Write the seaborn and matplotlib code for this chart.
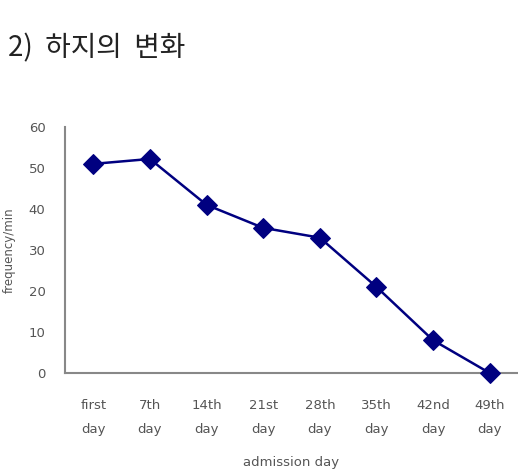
import matplotlib
matplotlib.use("Agg")
import matplotlib.pyplot as plt
import seaborn as sns
import pandas as pd

days = ["first\nday", "7th\nday", "14th\nday", "21st\nday", "28th\nday", "35th\nday", "42nd\nday", "49th\nday"]
frequency = [51, 52.2, 41, 35.4, 33, 21, 8, 0]
yticks = [0, 10, 20, 30, 40, 50, 60]

df = pd.DataFrame({"day": days, "frequency": frequency})

sns.set_theme(style="white")
plt.rcParams['font.family'] = ['DejaVu Sans', 'Noto Sans CJK KR']

fig = plt.figure(figsize=(5.18, 4.72), dpi=100)
ax = fig.add_axes([0.1255, 0.2097, 0.8745, 0.5213])

sns.lineplot(data=df, x="day", y="frequency", sort=False, ax=ax,
             color="#000080", linewidth=1.8, marker="D", markersize=10,
             markeredgecolor="#000080", clip_on=False, zorder=5)

ax.set_xlim(-0.5, 7.5)
ax.set_ylim(0, 60)
ax.set_yticks(yticks)
ax.tick_params(axis="both", length=0, colors="#555555", labelsize=9.5)
ax.tick_params(axis="x", pad=19)
ax.tick_params(axis="y", pad=14)
for lab in ax.get_xticklabels():
    lab.set_linespacing(2.1)
ax.set_xlabel("admission day", fontsize=9.5, color="#555555", labelpad=14)
ax.set_ylabel("frequency/min", fontsize=8.5, color="#555555", labelpad=9)

sns.despine(ax=ax)
for s in ["left", "bottom"]:
    ax.spines[s].set_color("#888888")
    ax.spines[s].set_linewidth(1.5)

fig.text(0.015, 0.898, "2)  하지의  변화", fontsize=20, color="#222222", va="center", ha="left",
         family=['Noto Sans CJK KR', 'DejaVu Sans'])

fig.savefig("out.png", dpi=100)
